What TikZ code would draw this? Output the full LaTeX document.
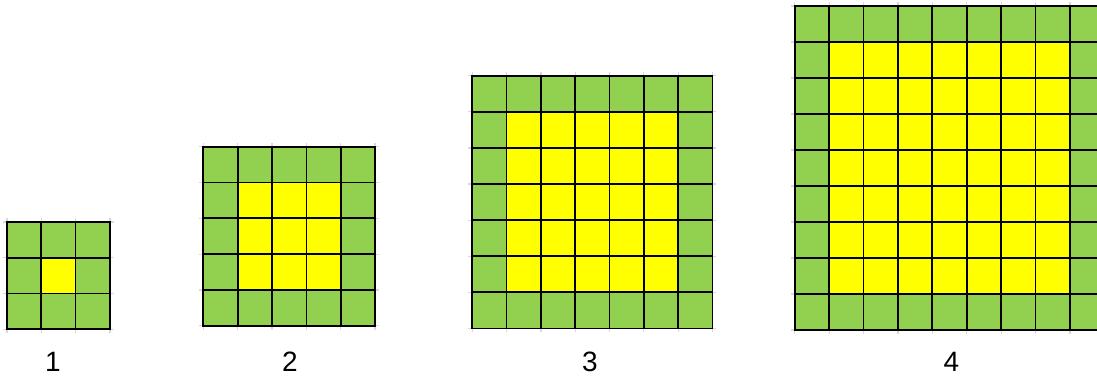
\documentclass[tikz,border=0pt]{standalone}
\usepackage{fontspec}
\setmainfont{Liberation Sans}
\definecolor{rimgreen}{HTML}{92D050}
\definecolor{coreyellow}{HTML}{FFFF00}

\begin{document}
\begin{tikzpicture}[x=1pt, y=-1pt,
  gridline/.style={black, line width=1.7pt, line cap=rect},
  gridtick/.style={black!15, line width=1.2pt},
  numlabel/.style={font=\fontsize{28}{32}\selectfont, anchor=base, inner sep=0pt}
]
  \clip (0,0) rectangle (1097,377);

  % Squares: left/top/cells/cell width/cell height/label/label x
  \foreach \gx/\gy/\gn/\gw/\gh/\glab/\lx in {7/222/3/34.3/35.7/1/53,
                                          203.3/146.7/5/34.35/35.8/2/290,
                                          472.3/75.7/7/34.3/36.1/3/590,
                                          794.7/6/9/34.4/36/4/951.5} {
    % fills
    \fill[rimgreen] (\gx,\gy) rectangle ++({\gn*\gw},{\gn*\gh});
    \fill[coreyellow] ({\gx+\gw},{\gy+\gh}) rectangle ++({(\gn-2)*\gw},{(\gn-2)*\gh});
    % faint overhang of the lines
    \foreach \i in {0,...,\gn} {
      \draw[gridtick] ({\gx+\i*\gw},{\gy-4}) -- ({\gx+\i*\gw},{\gy+\gn*\gh+4});
      \draw[gridtick] ({\gx-4},{\gy+\i*\gh}) -- ({\gx+\gn*\gw+4},{\gy+\i*\gh});
    }
    % grid
    \foreach \i in {0,...,\gn} {
      \draw[gridline] ({\gx+\i*\gw},\gy) -- ({\gx+\i*\gw},{\gy+\gn*\gh});
      \draw[gridline] (\gx,{\gy+\i*\gh}) -- ({\gx+\gn*\gw},{\gy+\i*\gh});
    }
    % number below
    \node[numlabel] (lab\glab) at (\lx,371) {\glab};
  }
\end{tikzpicture}
\end{document}
